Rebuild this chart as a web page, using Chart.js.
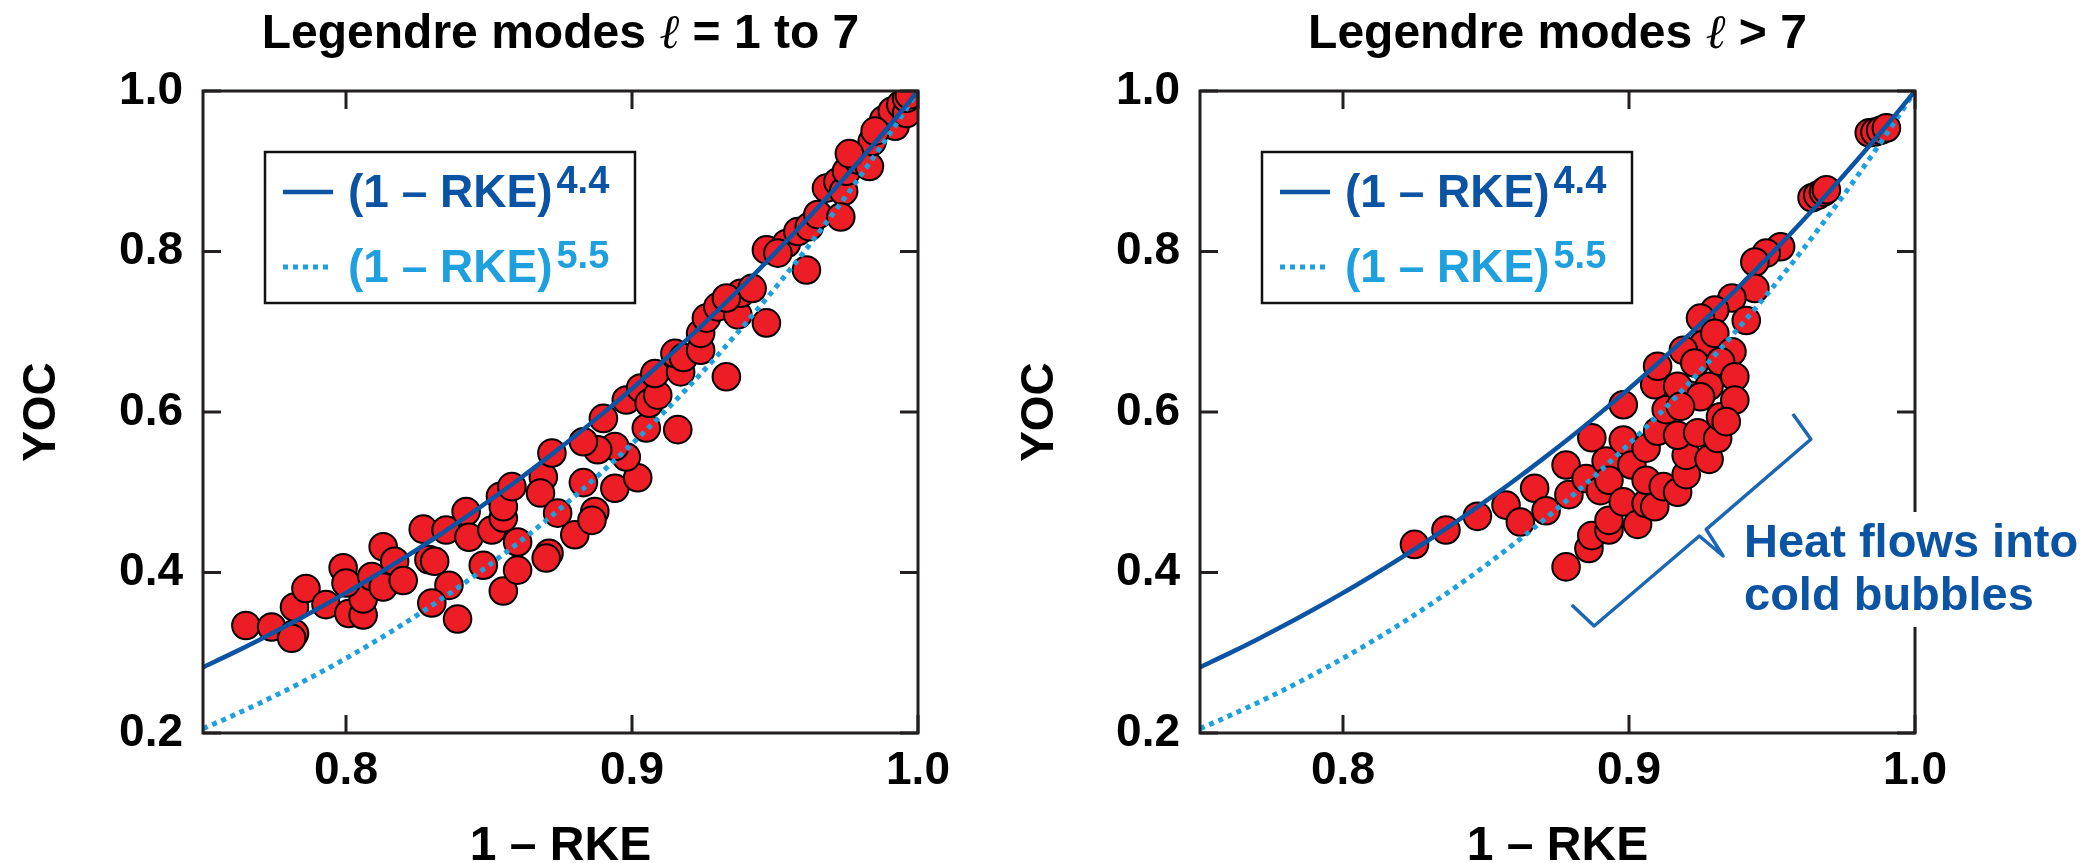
<!DOCTYPE html>
<html>
<head>
<meta charset="utf-8">
<title>YOC vs 1 – RKE</title>
<script src="https://cdn.jsdelivr.net/npm/chart.js@4.4.1/dist/chart.umd.min.js"></script>
<style>
  html, body { margin: 0; padding: 0; background: #fff; overflow: hidden; }
  #wrap { position: relative; width: 2090px; height: 863px; }
  canvas { position: absolute; top: 0; }
  #lowModes { left: 0; }
  #highModes { left: 1000px; }
</style>
</head>
<body>
<div id="wrap">
  <canvas id="lowModes" width="1000" height="863"></canvas>
  <canvas id="highModes" width="1090" height="863"></canvas>
</div>
<script>
// fit curves (1 - RKE)^4.4 and (1 - RKE)^5.5, read at steps of 0.01
const curveX = [0.75, 0.76, 0.77, 0.78, 0.79, 0.80, 0.81, 0.82, 0.83, 0.84, 0.85, 0.86, 0.87,
                0.88, 0.89, 0.90, 0.91, 0.92, 0.93, 0.94, 0.95, 0.96, 0.97, 0.98, 0.99, 1.00];
const fit44 = [0.2820, 0.2989, 0.3166, 0.3351, 0.3545, 0.3746, 0.3957, 0.4176, 0.4405, 0.4643, 0.4892, 0.5150, 0.5419,
               0.5698, 0.5989, 0.6290, 0.6604, 0.6929, 0.7267, 0.7617, 0.7980, 0.8356, 0.8746, 0.9149, 0.9567, 1.0];
const fit55 = [0.2055, 0.2210, 0.2375, 0.2550, 0.2735, 0.2931, 0.3138, 0.3357, 0.3589, 0.3833, 0.4091, 0.4363, 0.4649,
               0.4951, 0.5268, 0.5602, 0.5953, 0.6322, 0.6709, 0.7116, 0.7542, 0.7989, 0.8458, 0.8948, 0.9462, 1.0];
const fitBase = '(1 – RKE)';
const fitExponents = ['4.4', '5.5'];

// Legendre modes l = 1 to 7
const lowX = [0.765, 0.774, 0.782, 0.781, 0.782, 0.786, 0.793, 0.799, 0.801, 0.806, 0.806, 0.800, 0.809, 0.813,
              0.813, 0.817, 0.820, 0.827, 0.829, 0.831, 0.835, 0.836, 0.830, 0.839, 0.842, 0.843, 0.848, 0.855,
              0.851, 0.854, 0.855, 0.855, 0.860, 0.860, 0.858, 0.869, 0.868, 0.872, 0.871, 0.870, 0.874, 0.880,
              0.887, 0.886, 0.883, 0.894, 0.902, 0.898, 0.894, 0.888, 0.883, 0.890, 0.905, 0.916, 0.898, 0.903,
              0.906, 0.909, 0.908, 0.917, 0.915, 0.918, 0.924, 0.924, 0.926, 0.930, 0.937, 0.947, 0.933, 0.938,
              0.933, 0.942, 0.947, 0.954, 0.951, 0.961, 0.958, 0.962, 0.965, 0.968, 0.972, 0.974, 0.973, 0.975,
              0.979, 0.983, 0.984, 0.988, 0.992, 0.991, 0.994, 0.996, 0.996, 0.997, 0.985, 0.976];
const lowY = [0.334, 0.332, 0.324, 0.318, 0.357, 0.380, 0.360, 0.406, 0.349, 0.347, 0.367, 0.387, 0.395, 0.382,
              0.432, 0.414, 0.390, 0.454, 0.416, 0.414, 0.453, 0.384, 0.362, 0.342, 0.476, 0.444, 0.409, 0.377,
              0.453, 0.495, 0.468, 0.482, 0.438, 0.403, 0.507, 0.519, 0.499, 0.549, 0.424, 0.418, 0.474, 0.447,
              0.476, 0.465, 0.512, 0.505, 0.518, 0.544, 0.557, 0.553, 0.563, 0.592, 0.580, 0.578, 0.615, 0.630,
              0.611, 0.621, 0.648, 0.650, 0.673, 0.668, 0.677, 0.698, 0.717, 0.731, 0.721, 0.711, 0.644, 0.748,
              0.742, 0.754, 0.802, 0.810, 0.798, 0.777, 0.825, 0.831, 0.846, 0.879, 0.887, 0.875, 0.843, 0.900,
              0.914, 0.906, 0.937, 0.964, 0.956, 0.975, 0.983, 0.972, 0.991, 0.995, 0.950, 0.922];

// Legendre modes l > 7
const highX = [0.825, 0.836, 0.847, 0.857, 0.862, 0.867, 0.871, 0.878, 0.879, 0.885, 0.890, 0.887, 0.892, 0.898,
               0.901, 0.893, 0.898, 0.878, 0.886, 0.887, 0.893, 0.893, 0.898, 0.903, 0.906, 0.906, 0.909, 0.912,
               0.917, 0.920, 0.920, 0.928, 0.906, 0.910, 0.917, 0.924, 0.931, 0.913, 0.909, 0.921, 0.928, 0.932,
               0.953, 0.948, 0.944, 0.944, 0.936, 0.930, 0.925, 0.941, 0.926, 0.930, 0.936, 0.919, 0.923, 0.932,
               0.937, 0.910, 0.917, 0.925, 0.937, 0.918, 0.934, 0.984, 0.986, 0.988, 0.990, 0.964, 0.966, 0.968, 0.969];
const highY = [0.435, 0.453, 0.470, 0.484, 0.463, 0.505, 0.477, 0.534, 0.497, 0.517, 0.502, 0.568, 0.539, 0.565,
               0.534, 0.515, 0.609, 0.407, 0.430, 0.446, 0.453, 0.465, 0.488, 0.460, 0.486, 0.515, 0.482, 0.507,
               0.500, 0.522, 0.546, 0.541, 0.555, 0.576, 0.571, 0.574, 0.567, 0.603, 0.634, 0.621, 0.632, 0.594,
               0.806, 0.798, 0.787, 0.754, 0.742, 0.727, 0.717, 0.714, 0.684, 0.698, 0.675, 0.677, 0.661, 0.663,
               0.644, 0.657, 0.632, 0.619, 0.615, 0.607, 0.588, 0.948, 0.949, 0.951, 0.954, 0.867, 0.870, 0.874, 0.877];

const xTickValues = [0.8, 0.9, 1.0];
const yTickValues = [0.2, 0.4, 0.6, 0.8, 1.0];

// bracket pointing at the cold-bubble points, in data units
const braceX = [0.9573, 0.9636, 0.9270, 0.9329, 0.9246, 0.8878, 0.8800];
const braceY = [0.5975, 0.5660, 0.4538, 0.4206, 0.4455, 0.3333, 0.3595];
const noteLines = ['Heat flows into', 'cold bubbles'];

const FONT = "'Liberation Sans', Arial, Helvetica, sans-serif";
const SERIF = "'Liberation Serif', 'DejaVu Serif', serif";
const DARK_BLUE = '#0b54a4';
const LIGHT_BLUE = '#1ea0de';
const RED = '#ec1d25';

function points(xs, ys) {
  return xs.map((x, i) => ({ x: x, y: ys[i] }));
}

function decor(titleParts, withNote) {
  return {
    id: 'decor',
    afterDatasetsDraw(chart) {
      const { ctx, chartArea: a, scales: { x, y } } = chart;
      ctx.save();

      // frame and inward ticks
      ctx.strokeStyle = '#231f20';
      ctx.lineWidth = 3;
      ctx.beginPath();
      xTickValues.forEach(v => {
        const px = x.getPixelForValue(v);
        ctx.moveTo(px, a.bottom); ctx.lineTo(px, a.bottom - 18);
        ctx.moveTo(px, a.top); ctx.lineTo(px, a.top + 18);
      });
      yTickValues.forEach(v => {
        const py = y.getPixelForValue(v);
        ctx.moveTo(a.left, py); ctx.lineTo(a.left + 18, py);
        ctx.moveTo(a.right, py); ctx.lineTo(a.right - 18, py);
      });
      ctx.stroke();
      ctx.strokeRect(a.left, a.top, a.right - a.left, a.bottom - a.top);

      // title with a script l
      const fonts = ['bold 48px ' + FONT, 'italic 48px ' + SERIF, 'bold 48px ' + FONT];
      let w = 0;
      titleParts.forEach((t, i) => { ctx.font = fonts[i]; w += ctx.measureText(t).width; });
      let cx = (a.left + a.right) / 2 - w / 2;
      ctx.fillStyle = '#000';
      ctx.textBaseline = 'alphabetic';
      titleParts.forEach((t, i) => {
        ctx.font = fonts[i];
        ctx.fillText(t, cx, 48);
        cx += ctx.measureText(t).width;
      });

      // legend box
      const bx = a.left + 62, by = a.top + 61;
      ctx.fillStyle = '#fff';
      ctx.fillRect(bx, by, 370, 151);
      ctx.lineWidth = 2.5;
      ctx.strokeStyle = '#111';
      ctx.strokeRect(bx, by, 370, 151);
      [0, 1].forEach(i => {
        const ds = chart.data.datasets[i];
        const ly = by + 40 + i * 75;
        ctx.beginPath();
        ctx.setLineDash(ds.borderDash || []);
        ctx.lineWidth = ds.borderWidth;
        ctx.strokeStyle = ds.borderColor;
        ctx.moveTo(bx + 18, ly); ctx.lineTo(bx + 68, ly);
        ctx.stroke();
        ctx.setLineDash([]);
        ctx.fillStyle = ds.borderColor;
        ctx.font = 'bold 46px ' + FONT;
        ctx.fillText(fitBase, bx + 83, by + 55 + i * 75);
        const tw = ctx.measureText(fitBase).width;
        ctx.font = 'bold 38px ' + FONT;
        ctx.fillText(fitExponents[i], bx + 83 + tw + 4, by + 41 + i * 75);
      });

      if (withNote) {
        ctx.fillStyle = '#fff';
        ctx.fillRect(a.right - 180, 512, chart.width - a.right + 180, 115);
        ctx.fillStyle = DARK_BLUE;
        ctx.font = 'bold 47px ' + FONT;
        noteLines.forEach((t, i) => ctx.fillText(t, a.right - 171, 557 + i * 53));
        ctx.strokeStyle = '#1b67b4';
        ctx.lineWidth = 3.5;
        ctx.lineJoin = 'round';
        ctx.beginPath();
        braceX.forEach((v, i) => {
          const px = x.getPixelForValue(v), py = y.getPixelForValue(braceY[i]);
          if (i === 0) ctx.moveTo(px, py); else ctx.lineTo(px, py);
        });
        ctx.stroke();
      }
      ctx.restore();
    }
  };
}

function criarPainel(idCanvas, xs, ys, titleParts, withNote, box) {
  const tickFont = { family: FONT, size: 46, weight: 'bold', lineHeight: 1.2 };
  return new Chart(document.getElementById(idCanvas), {
    type: 'scatter',
    data: {
      datasets: [
        {
          label: fitBase + fitExponents[0],
          data: points(curveX, fit44),
          showLine: true,
          borderColor: DARK_BLUE,
          borderWidth: 4.5,
          pointRadius: 0,
          cubicInterpolationMode: 'monotone',
          clip: 0
        },
        {
          label: fitBase + fitExponents[1],
          data: points(curveX, fit55),
          showLine: true,
          borderColor: LIGHT_BLUE,
          borderWidth: 5,
          borderDash: [5, 5],
          borderCapStyle: 'butt',
          pointRadius: 0,
          cubicInterpolationMode: 'monotone',
          clip: 0
        },
        {
          label: 'YOC',
          data: points(xs, ys),
          backgroundColor: RED,
          borderColor: '#000',
          borderWidth: 2,
          pointRadius: 13.8,
          pointHoverRadius: 13.8,
          clip: 0
        }
      ]
    },
    options: {
      responsive: false,
      animation: false,
      devicePixelRatio: 1,
      events: [],
      layout: { padding: { top: 91, right: box.right, bottom: 0, left: 0 } },
      plugins: { legend: { display: false }, tooltip: { enabled: false }, title: { display: false } },
      scales: {
        x: {
          type: 'linear', min: 0.75, max: 1.0,
          afterBuildTicks: s => { s.ticks = xTickValues.map(v => ({ value: v })); },
          afterFit: s => { s.height = 130; },
          grid: { display: false, drawTicks: false },
          border: { display: false },
          ticks: { padding: 11, color: '#000', font: tickFont, autoSkip: false, maxRotation: 0,
                   callback: v => v.toFixed(1) },
          title: { display: true, text: '1 – RKE', color: '#000',
                   font: { family: FONT, size: 48, weight: 'bold', lineHeight: 1 },
                   padding: { top: 0, bottom: -8 } }
        },
        y: {
          type: 'linear', min: 0.2, max: 1.0,
          afterBuildTicks: s => { s.ticks = yTickValues.map(v => ({ value: v })); },
          afterFit: s => { s.width = box.left; },
          grid: { display: false, drawTicks: false },
          border: { display: false },
          ticks: { padding: 20, color: '#000', font: tickFont, autoSkip: false,
                   callback: v => v.toFixed(1) },
          title: { display: true, text: 'YOC', color: '#000',
                   font: { family: FONT, size: 46, weight: 'bold', lineHeight: 1 },
                   padding: { top: box.yTitle, bottom: 0 } }
        }
      }
    },
    plugins: [decor(titleParts, withNote)]
  });
}

criarPainel('lowModes', lowX, lowY, ['Legendre modes ', 'ℓ', ' = 1 to 7'], false,
            { left: 203, right: 82, yTitle: 19 });
criarPainel('highModes', highX, highY, ['Legendre modes ', 'ℓ', ' > 7'], true,
            { left: 200, right: 175, yTitle: 17 });
</script>
</body>
</html>
